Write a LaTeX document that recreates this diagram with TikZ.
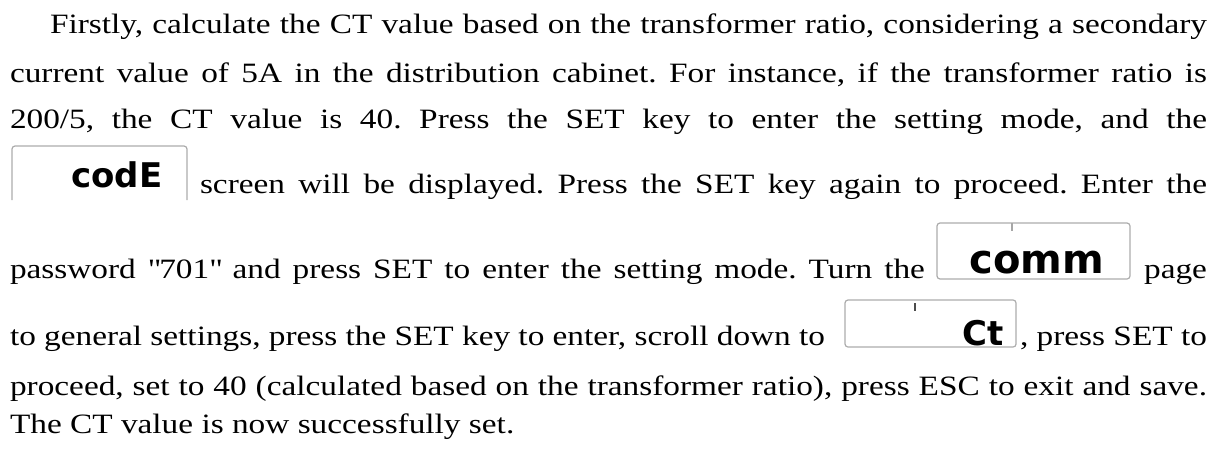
\documentclass[tikz,border=0pt]{standalone}
\usepackage{fontspec}
\setmainfont{Liberation Serif}[FakeStretch=1.19]
\newfontfamily\lcdfont{DejaVu Sans}
\usetikzlibrary{positioning}
\frenchspacing
\tikzset{
	every node/.style={
		inner sep=0pt,
		outer sep=0pt,
		font=\fontsize{28}{30}\selectfont
	},
	textline/.style={
		anchor=base west
	},
	lcdbox/.style={
		draw=gray!65,
		line width=1.2pt,
		rounded corners=3pt
	},
	lcdtext/.style={
		anchor=base,
		font=\lcdfont\bfseries\fontsize{34}{34}\selectfont
	}
}

\begin{document}
\begin{tikzpicture}[x=1pt,y=-1pt]
	\useasboundingbox (0,0) rectangle (1231,448);
	
	% paragraph lines
	\node[textline] (line1) at (50,33) {\makebox[1157pt][s]{Firstly, calculate the CT value based on the transformer ratio, considering a secondary}};
	\node[textline] (line2) at (10,82) {\makebox[1197pt][s]{current value of 5A in the distribution cabinet. For instance, if the transformer ratio is}};
	\node[textline] (line3) at (10,128) {\makebox[1197pt][s]{200/5, the CT value is 40. Press the SET key to enter the setting mode, and the}};
	\node[textline] (line4) at (200,193) {\makebox[1007pt][s]{screen will be displayed. Press the SET key again to proceed. Enter the}};
	\node[textline] (line5) at (10,278) {\makebox[915pt][s]{password \textquotedbl 701\textquotedbl{} and press SET to enter the setting mode. Turn the}};
	\node[anchor=base east] (page) at (1207,278) {page};
	\node[textline] (line6) at (10,345) {\makebox[815pt][s]{to general settings, press the SET key to enter, scroll down to}};
	\node[anchor=base east] (proceed) at (1207,345) {, press SET to};
	\node[textline] (line7) at (10,395) {\makebox[1197pt][s]{proceed, set to 40 (calculated based on the transformer ratio), press ESC to exit and save.}};
	\node[textline] (line8) at (10,433) {The CT value is now successfully set.};
	
	% display screens
	\draw[lcdbox] (12,200) -- (12,146) -- (187,146) -- (187,200);
	\node[lcdtext] (code) at (117,187) {codE};
	
	\draw[lcdbox] (937,223) rectangle (1130,279);
	\draw[gray!70, line width=1.2pt] (1012,223) -- (1012,231);
	\node[lcdtext, font=\lcdfont\bfseries\fontsize{40}{40}\selectfont] (comm) at (1037,273) {comm};
	
	\draw[lcdbox] ([xshift=20pt,yshift=-2pt]line6.base east) rectangle ([xshift=-4pt,yshift=45pt]proceed.base west);
	\draw[black!70, line width=1.2pt] ([xshift=90pt,yshift=42pt]line6.base east) -- ++(0,8);
	\node[lcdtext, left=16pt of proceed.base west, anchor=base east] (ct) {Ct};
\end{tikzpicture}
\end{document}
